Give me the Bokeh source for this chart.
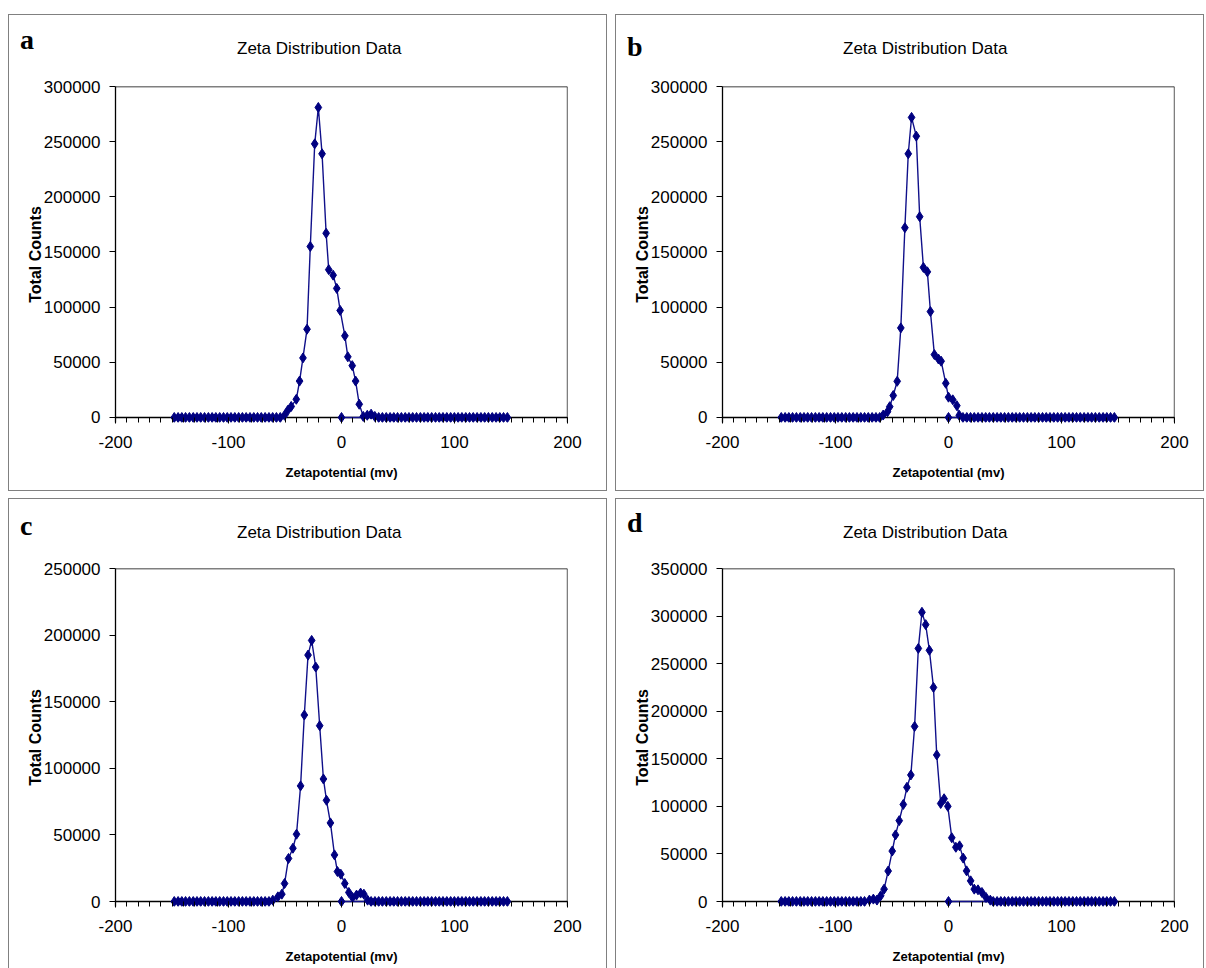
from bokeh.plotting import figure
from bokeh.models import FixedTicker, NumeralTickFormatter, Range1d, Spacer, Span, Div
from bokeh.layouts import column, row
from bokeh.embed import file_html
from bokeh.resources import INLINE

# ---- data ----
# zeta-potential bins (mV) on which the flat zero baseline is recorded
BASE_X = [-148.0, -144.6, -141.3, -138.0, -134.6, -131.2, -127.9, -124.6, -121.2, -117.8,
          -114.5, -111.2, -107.8, -104.4, -101.1, -97.8, -94.4, -91.0, -87.7, -84.4,
          -81.0, -77.6, -74.3, -71.0, -67.6, -64.2, -60.9, -57.6, -54.2, -50.8,
          -47.5, -44.2, -40.8, -37.4, -34.1, -30.8, -27.4, -24.0, -20.7, -17.4,
          -14.0, -10.6, -7.3, -4.0, -0.6, 2.8, 6.1, 9.4, 12.8, 16.2,
          19.5, 22.8, 26.2, 29.6, 32.9, 36.2, 39.6, 43.0, 46.3, 49.6,
          53.0, 56.4, 59.7, 63.0, 66.4, 69.8, 73.1, 76.4, 79.8, 83.2,
          86.5, 89.8, 93.2, 96.6, 99.9, 103.2, 106.6, 110.0, 113.3, 116.6,
          120.0, 123.4, 126.7, 130.0, 133.4, 136.8, 140.1, 143.4, 146.8]

A_X = [-50.4, -47.5, -44.5, -40.0, -37.1, -34.1, -30.5, -27.6, -23.7, -20.5, -17.2, -13.6,
       -11.3, -7.4, -4.2, -1.2, 3.0, 5.6, 9.5, 12.5, 15.7, 19.3, 22.8, 26.2, 29.5]
A_Y = [2000, 6500, 10000, 16500, 33000, 54000, 80000, 155000, 248000, 281000, 239000, 167000,
       134000, 129000, 117000, 97000, 74000, 55000, 47000, 33000, 12000, 1000, 2000, 3000, 1000]

B_X = [-57.8, -54.0, -52.0, -48.9, -45.4, -42.2, -38.6, -35.6, -32.7, -28.5, -25.5, -22.2,
       -18.7, -16.0, -12.5, -8.9, -6.5, -2.4, 0.0, 3.8, 7.4, 9.5]
B_Y = [2200, 5200, 9800, 19900, 32800, 81200, 172000, 239000, 272000, 255000, 182000, 136000,
       132000, 96000, 57000, 53000, 51000, 31000, 18400, 16000, 10700, 2000]

C_X = [-60.8, -56.3, -52.8, -50.4, -46.9, -43.0, -39.8, -36.2, -32.9, -29.6, -26.4, -22.8,
       -19.3, -16.0, -13.3, -9.8, -6.2, -3.6, -0.6, 2.9, 6.5, 9.8, 13.3, 16.9, 19.8, 23.1]
C_Y = [1000, 3500, 5500, 13500, 32300, 40000, 50500, 86800, 140000, 185000, 196000, 176000,
       132000, 92000, 76000, 59000, 35000, 22500, 20500, 13500, 6800, 3000, 4800, 6300, 5500, 1000]

D_X = [-70.0, -66.5, -63.3, -60.0, -57.0, -53.4, -49.8, -46.9, -43.6, -40.0, -36.8, -33.3,
       -30.0, -26.7, -23.5, -20.2, -16.9, -13.3, -10.4, -6.9, -3.9, -0.6, 2.9, 6.5,
       9.8, 13.0, 16.0, 19.6, 22.8, 26.1, 29.6, 33.2, 37.0]
D_Y = [1500, 2500, 1500, 6000, 13000, 32000, 53000, 70000, 85000, 102000, 120000, 133000,
       184000, 266000, 304000, 291000, 264000, 225000, 154000, 103000, 108000, 100000, 67000, 57000,
       58500, 45600, 32200, 21700, 13000, 12300, 9500, 4200, 1400]

TITLE = "Zeta Distribution Data"
X_LABEL = "Zetapotential (mv)"
Y_LABEL = "Total Counts"
X_TICKS = [-200, -100, 0, 100, 200]
X_TICK_TEXT = ["-200", "-100", "0", "100", "200"]
A_YTICKS = [0, 50000, 100000, 150000, 200000, 250000, 300000]
B_YTICKS = [0, 50000, 100000, 150000, 200000, 250000, 300000]
C_YTICKS = [0, 50000, 100000, 150000, 200000, 250000]
D_YTICKS = [0, 50000, 100000, 150000, 200000, 250000, 300000, 350000]
LETTERS = ["a", "b", "c", "d"]

NAVY = "#000080"
SANS = "Liberation Sans"
GRAY = "1px solid #808080"
PAD = 5  # px of white space kept below the zero line so baseline diamonds are whole
HEAD_H = 50


def series(px, py):
    lo, hi = min(px) - 1.6, max(px) + 1.6
    left = [x for x in BASE_X if x < lo]
    right = [x for x in BASE_X if x > hi]
    xs = left + list(px) + right + [0]
    ys = [0] * len(left) + list(py) + [0] * len(right) + [0]
    return xs, ys


def header(letter, width, letter_top, title_left, title_top):
    html = (
        f'<div style="position:relative;width:{width - 2}px;height:{HEAD_H - 1}px;'
        f'margin:0;padding:0;overflow:visible;">'
        f'<span style="position:absolute;left:11px;top:{letter_top}px;line-height:28px;'
        f'font-family:\'Liberation Serif\';font-weight:bold;font-size:28px;color:black;">'
        f'{letter}</span>'
        f'<span style="position:absolute;left:{title_left}px;top:{title_top}px;'
        f'line-height:17px;white-space:nowrap;font-family:\'Liberation Sans\';'
        f'font-size:17px;color:black;">{TITLE}</span></div>'
    )
    return Div(text=html, width=width, height=HEAD_H, margin=0,
               styles={"border-top": GRAY, "border-left": GRAY, "border-right": GRAY,
                       "background": "white"})


def panel(px, py, yticks, width, height, top, frame_h, bottom, css):
    ymax = yticks[-1]
    ypad = ymax * PAD / (frame_h - PAD)
    p = figure(width=width, height=height, output_backend="svg", toolbar_location=None,
               x_range=Range1d(-200, 200), y_range=Range1d(-ypad, ymax),
               min_border_left=106, min_border_right=width - 106 - 450 - 2,
               min_border_top=top, min_border_bottom=bottom,
               background_fill_color="white", border_fill_color="white",
               outline_line_color=None, styles=css)
    p.grid.visible = False

    xa = p.xaxis[0]
    xa.ticker = FixedTicker(ticks=X_TICKS, minor_ticks=list(range(-200, 201, 10)))
    xa.major_label_overrides = dict(zip(X_TICKS, X_TICK_TEXT))
    xa.axis_label = X_LABEL
    ya = p.yaxis[0]
    ya.ticker = FixedTicker(ticks=yticks)
    ya.formatter = NumeralTickFormatter(format="0")
    ya.axis_label = Y_LABEL
    for ax in (xa, ya):
        ax.axis_line_color = "black"
        ax.axis_line_width = 1.3
        ax.major_tick_line_color = "black"
        ax.minor_tick_line_color = "black"
        ax.major_label_text_font = SANS
        ax.major_label_text_font_size = "17px"
        ax.major_label_text_color = "black"
        ax.axis_label_text_font = SANS
        ax.axis_label_text_font_style = "bold"
        ax.axis_label_text_color = "black"
    # x axis: line drawn at the zero level, ticks reach from it downwards
    xa.axis_line_color = None
    xa.major_tick_in = PAD
    xa.major_tick_out = 1
    xa.minor_tick_in = PAD
    xa.minor_tick_out = 0
    ya.major_tick_in = 0
    ya.major_tick_out = 6
    ya.minor_tick_line_color = None
    xa.axis_label_text_font_size = "13px"
    ya.axis_label_text_font_size = "16px"
    xa.major_label_standoff = 12
    ya.major_label_standoff = 9
    xa.axis_label_standoff = 14
    ya.axis_label_standoff = -3

    # zero line, top and right edges of the plot box
    for loc, dim in ((0, "width"), (ymax, "width"), (200, "height")):
        p.add_layout(Span(location=loc, dimension=dim, line_color="black",
                          line_width=1.3, level="underlay"))

    xs, ys = series(px, py)
    p.line(xs, ys, line_color="#10108a", line_width=1.4)
    p.scatter(xs, ys, marker="diamond", size=10, fill_color=NAVY, line_color=NAVY,
              line_width=1.0)
    return p


sides_bottom = {"border-left": GRAY, "border-right": GRAY, "border-bottom": GRAY}
sides = {"border-left": GRAY, "border-right": GRAY}

col_a = column(header(LETTERS[0], 599, 11, 228, 25),
               panel(A_X, A_Y, A_YTICKS, 599, 427, 22, 335, 69, sides_bottom), spacing=0)
col_b = column(header(LETTERS[1], 589, 18, 227, 25),
               panel(B_X, B_Y, B_YTICKS, 589, 427, 22, 335, 69, sides_bottom), spacing=0)
col_c = column(header(LETTERS[2], 599, 13, 228, 25),
               panel(C_X, C_Y, C_YTICKS, 599, 420, 20, 338, 62, sides), spacing=0)
col_d = column(header(LETTERS[3], 589, 10, 227, 25),
               panel(D_X, D_Y, D_YTICKS, 589, 420, 20, 338, 62, sides), spacing=0)

layout = column(Spacer(height=14),
                row(Spacer(width=8), col_a, Spacer(width=8), col_b),
                Spacer(height=7),
                row(Spacer(width=8), col_c, Spacer(width=8), col_d))

open("out.html", "w").write(file_html(layout, INLINE))
